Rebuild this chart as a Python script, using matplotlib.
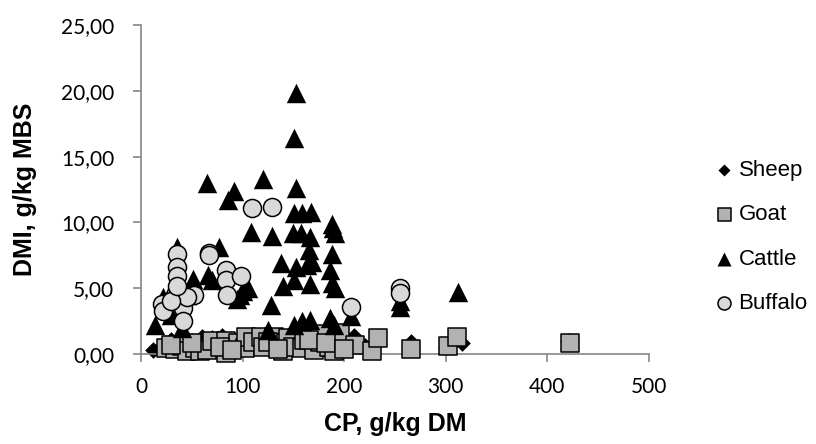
import matplotlib
matplotlib.use("Agg")
import matplotlib.pyplot as plt

# CP (g/kg DM) vs DMI (g/kg MBS)
sheep_cp = [12, 20, 25, 30, 35, 40, 45, 50, 55, 60, 65, 70, 75, 80, 85, 90, 95, 100,
            105, 110, 115, 120, 125, 130, 135, 140, 145, 150, 160, 165, 170, 175, 180,
            190, 200, 210, 220, 266, 300, 316, 420]
sheep_dmi = [0.3, 0.5, 0.8, 1.1, 0.6, 1.2, 0.4, 1.0, 0.7, 1.3, 0.5, 1.2, 0.9, 1.4, 0.6,
             1.1, 0.8, 1.3, 0.5, 1.0, 1.2, 0.7, 1.6, 0.9, 1.1, 0.6, 1.4, 0.8, 1.2, 0.5,
             1.0, 1.3, 0.7, 1.2, 0.9, 1.4, 0.6, 0.9, 0.5, 0.8, 1.0]

goat_cp = [25, 33, 40, 45, 53, 58, 65, 70, 84, 85, 84, 95, 102, 103, 110, 118, 120,
           131, 140, 140, 145, 150, 158, 160, 170, 176, 176, 185, 190, 193, 196, 211,
           227, 233, 266, 302, 311, 422, 30, 50, 78, 90, 125, 135, 165, 182, 200]
goat_dmi = [0.45, 0.4, 0.6, 0.2, 0.45, 0.2, 0.3, 1.0, 1.0, 0.45, 0.1, 0.8, 0.45, 1.3,
            0.9, 1.3, 0.5, 1.3, 0.8, 0.2, 1.2, 0.5, 0.45, 1.06, 0.3, 0.9, 1.5, 0.5, 0.2,
            1.06, 1.6, 0.7, 0.2, 1.2, 0.4, 0.6, 1.3, 0.8, 0.7, 0.8, 0.5, 0.3, 0.9, 0.4,
            1.1, 0.8, 0.4]

cattle_cp = [153, 151, 65, 120, 92, 86, 153, 151, 158, 167, 108, 129, 150, 157, 166,
             188, 191, 189, 165, 138, 153, 163, 168, 188, 186, 188, 191, 140, 151, 166,
             128, 14, 22, 35, 51, 66, 77, 97, 105, 94, 40, 151, 158, 166, 186, 207,
             255, 312, 80, 70, 45, 100, 30, 125, 190, 255]
cattle_dmi = [19.8, 16.4, 13.0, 13.3, 12.4, 11.7, 12.6, 10.7, 10.7, 10.8, 9.3, 9.0,
              9.2, 9.2, 8.9, 9.9, 9.2, 9.6, 7.9, 6.9, 6.6, 6.8, 7.0, 7.6, 6.4, 5.4,
              5.0, 5.2, 5.6, 5.3, 3.7, 2.2, 4.3, 8.1, 5.7, 6.0, 8.1, 4.5, 5.0, 4.2,
              2.0, 2.2, 2.5, 2.6, 2.7, 2.9, 3.6, 4.7, 5.7, 5.6, 4.5, 4.8, 3.0, 1.8,
              2.2, 4.0]

buffalo_cp = [109, 129, 35, 35, 35, 35, 33, 37, 21, 22, 41, 41, 52, 67, 67, 84, 84,
              85, 98, 207, 255, 255, 45, 30, 35]
buffalo_dmi = [11.1, 11.2, 7.6, 6.6, 5.9, 4.9, 4.5, 4.3, 3.8, 3.3, 3.5, 2.5, 4.5, 7.7,
               7.5, 6.4, 5.6, 4.5, 5.9, 3.6, 5.0, 4.6, 4.3, 4.0, 5.2]

x_ticks = [0, 100, 200, 300, 400, 500]
y_ticks = [0, 5, 10, 15, 20, 25]
y_tick_labels = ["0,00", "5,00", "10,00", "15,00", "20,00", "25,00"]

fig = plt.figure(figsize=(8.16, 4.44), dpi=100)
ax = fig.add_axes([141 / 816, 1 - 354 / 444, 508 / 816, 329 / 444])

ax.scatter(sheep_cp, sheep_dmi, marker="D", s=8.5 ** 2, color="black",
           linewidths=0, label="Sheep", zorder=2, clip_on=False)
ax.scatter(goat_cp, goat_dmi, marker="s", s=13 ** 2, facecolor="#b2b2b2",
           edgecolor="black", linewidths=1.1, label="Goat", zorder=3, clip_on=False)
ax.scatter(cattle_cp, cattle_dmi, marker="^", s=14 ** 2, color="black",
           linewidths=0, label="Cattle", zorder=4, clip_on=False)
ax.scatter(buffalo_cp, buffalo_dmi, marker="o", s=13 ** 2, facecolor="#d9d9d9",
           edgecolor="black", linewidths=1.1, label="Buffalo", zorder=5, clip_on=False)

ax.set_xlim(0, 500)
ax.set_ylim(0, 25)
ax.set_xticks(x_ticks)
ax.set_yticks(y_ticks)
ax.set_yticklabels(y_tick_labels)

for side in ("top", "right"):
    ax.spines[side].set_visible(False)
for side in ("left", "bottom"):
    ax.spines[side].set_color("#868686")
    ax.spines[side].set_linewidth(1.2)
ax.tick_params(direction="out", length=5.8, width=1.2, color="#868686", labelsize=15)
ax.tick_params(axis="y", pad=13.5)
ax.tick_params(axis="x", pad=11)
for lbl in ax.get_xticklabels() + ax.get_yticklabels():
    lbl.set_family("Lato")

ax.set_xlabel("CP, g/kg DM", fontsize=18, fontweight="bold", family="Liberation Sans")
ax.set_ylabel("DMI, g/kg MBS", fontsize=18, fontweight="bold", family="Liberation Sans")
ax.xaxis.set_label_coords(0.5, -0.176)
ax.yaxis.set_label_coords(-0.205, 0.5)

ax.legend(loc="upper left", bbox_to_anchor=(693 / 816, 1 - 140 / 444),
          bbox_transform=fig.transFigure, frameon=False, markerscale=0.72,
          handletextpad=0.15, handlelength=1.0, labelspacing=1.05,
          prop={"family": "Liberation Sans", "size": 16})

fig.savefig("out.png", dpi=100)
